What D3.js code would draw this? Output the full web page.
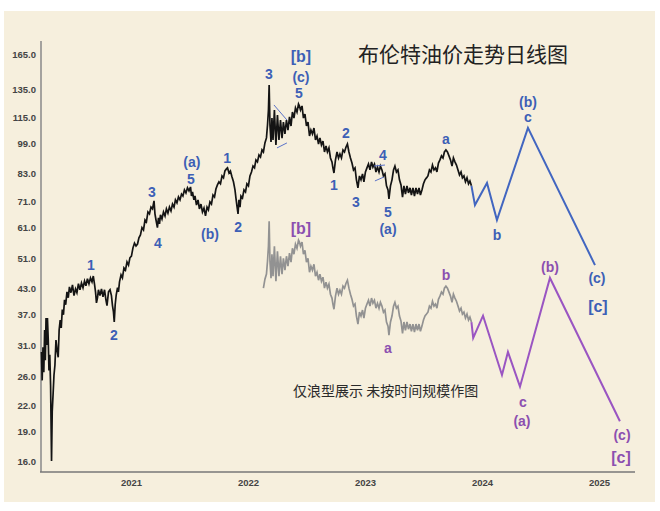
<!DOCTYPE html>
<html>
<head>
<meta charset="utf-8">
<script src="https://cdn.jsdelivr.net/npm/d3@7"></script>
<style>
body { margin: 0; background: #fff; }
svg { display: block; }
</style>
</head>
<body>
<div id="chart"></div>
<script>
// Brent daily chart (time in decimal years, price in USD)
var brentTime = [
2020.235,2020.241,2020.248,2020.255,2020.262,2020.268,2020.274,2020.280,2020.286,2020.293,
2020.299,2020.306,2020.313,2020.321,2020.327,2020.335,2020.342,2020.350,2020.359,2020.368,
2020.378,2020.386,2020.395,2020.404,2020.413,2020.423,2020.432,2020.442,2020.453,2020.464,
2020.474,2020.487,2020.500,2020.513,2020.526,2020.538,2020.551,2020.564,2020.577,2020.590,
2020.603,2020.615,2020.628,2020.641,2020.654,2020.667,2020.678,2020.688,2020.697,2020.705,
2020.714,2020.722,2020.735,2020.748,2020.761,2020.774,2020.786,2020.795,2020.808,2020.821,
2020.833,2020.842,2020.850,2020.857,2020.865,2020.874,2020.885,2020.893,2020.902,2020.915,
2020.927,2020.940,2020.953,2020.966,2020.979,2020.991,2021.004,2021.017,2021.030,2021.043,
2021.056,2021.068,2021.081,2021.094,2021.107,2021.120,2021.132,2021.145,2021.158,2021.171,
2021.184,2021.197,2021.205,2021.214,2021.226,2021.235,2021.244,2021.252,2021.265,2021.278,
2021.291,2021.303,2021.316,2021.329,2021.342,2021.355,2021.368,2021.380,2021.393,2021.406,
2021.419,2021.432,2021.444,2021.457,2021.470,2021.483,2021.496,2021.509,2021.517,2021.526,
2021.538,2021.547,2021.560,2021.573,2021.585,2021.598,2021.611,2021.624,2021.637,2021.650,
2021.662,2021.675,2021.688,2021.701,2021.714,2021.726,2021.739,2021.752,2021.765,2021.778,
2021.791,2021.803,2021.816,2021.825,2021.838,2021.850,2021.863,2021.876,2021.889,2021.897,
2021.906,2021.915,2021.923,2021.932,2021.940,2021.953,2021.966,2021.979,2021.991,2022.004,
2022.017,2022.030,2022.043,2022.056,2022.068,2022.081,2022.094,2022.107,2022.120,2022.132,
2022.145,2022.158,2022.167,2022.175,2022.181,2022.188,2022.197,2022.205,2022.214,2022.226,
2022.239,2022.252,2022.265,2022.278,2022.291,2022.303,2022.316,2022.329,2022.342,2022.355,
2022.368,2022.380,2022.393,2022.406,2022.419,2022.432,2022.440,2022.449,2022.462,2022.474,
2022.487,2022.500,2022.513,2022.526,2022.538,2022.551,2022.564,2022.577,2022.590,2022.603,
2022.615,2022.628,2022.641,2022.654,2022.667,2022.679,2022.692,2022.705,2022.718,2022.726,
2022.735,2022.748,2022.761,2022.774,2022.786,2022.799,2022.812,2022.825,2022.838,2022.850,
2022.863,2022.876,2022.889,2022.902,2022.915,2022.927,2022.940,2022.953,2022.966,2022.979,
2022.991,2023.004,2023.017,2023.030,2023.043,2023.056,2023.068,2023.081,2023.094,2023.107,
2023.120,2023.132,2023.145,2023.158,2023.171,2023.184,2023.197,2023.205,2023.218,2023.231,
2023.244,2023.256,2023.269,2023.282,2023.295,2023.308,2023.321,2023.333,2023.346,2023.359,
2023.372,2023.385,2023.397,2023.410,2023.423,2023.436,2023.449,2023.462,2023.474,2023.487,
2023.500,2023.513,2023.526,2023.538,2023.551,2023.564,2023.577,2023.590,2023.603,2023.615,
2023.628,2023.641,2023.654,2023.667,2023.679,2023.692,2023.705,2023.718,2023.731,2023.744,
2023.756,2023.769,2023.782,2023.795,2023.808,2023.821,2023.833,2023.846,2023.859,2023.872,
2023.885,2023.897,2023.910];

var brentPrice = [
29.9,25.4,30.7,26.6,33.9,28.5,36.3,31.1,36.3,32.0,
26.9,29.4,24.7,16.0,21.3,23.7,26.2,27.7,32.0,30.2,
29.0,33.9,35.9,34.3,38.1,37.0,40.3,39.2,42.2,40.8,
43.4,42.0,43.9,41.3,42.9,42.0,44.2,42.7,44.4,43.2,
44.9,43.7,45.5,44.2,45.7,44.7,46.2,44.2,42.2,39.6,
40.8,42.7,41.3,42.9,41.0,42.7,40.3,39.0,42.2,42.7,
41.3,39.0,37.7,35.5,39.2,41.5,43.2,42.2,44.7,46.5,
45.7,48.4,47.8,50.1,49.2,51.3,51.8,54.3,55.8,54.9,
55.5,57.5,58.5,61.0,60.2,63.7,63.0,66.7,66.0,68.6,
67.9,71.1,66.0,63.7,61.0,64.5,62.3,65.6,64.1,66.7,
65.2,67.9,66.3,68.6,67.1,69.8,68.6,71.5,70.3,72.7,
71.5,73.9,73.1,75.7,74.4,76.6,75.3,77.0,73.1,74.8,
71.5,73.1,69.4,71.5,67.9,69.8,66.7,68.2,65.2,68.6,
67.5,70.7,69.8,73.5,72.7,76.1,77.9,79.3,78.4,82.0,
81.1,84.4,85.4,85.9,83.4,84.4,81.6,79.3,75.7,72.3,
69.0,66.0,71.5,68.6,73.1,72.3,75.7,74.8,78.4,77.5,
82.0,83.9,86.8,85.9,89.9,88.9,92.5,91.4,95.2,94.1,
99.1,102.0,109.8,119.7,138.1,109.8,99.6,114.3,100.8,119.7,
97.9,116.3,100.8,113.0,101.9,111.7,104.3,113.0,106.7,115.0,
109.2,118.3,114.3,121.1,118.3,123.9,122.5,119.7,122.5,114.3,
116.9,109.2,111.7,103.1,106.7,104.3,107.9,100.8,103.1,98.5,
102.0,97.9,100.2,94.1,97.4,94.1,96.3,90.9,88.9,85.9,
83.4,89.9,94.1,90.9,93.0,90.9,95.2,94.1,96.8,98.5,
94.1,90.9,88.3,84.9,85.9,80.2,76.6,82.0,80.2,83.0,
79.3,83.9,85.9,87.8,84.9,88.9,86.3,87.8,83.9,86.3,
83.9,86.8,84.9,82.0,83.0,77.5,75.7,71.9,77.5,80.2,
84.9,86.8,83.9,84.9,80.2,77.9,72.6,77.5,73.9,77.5,
74.4,76.6,73.5,76.6,73.1,76.6,73.9,76.6,73.5,75.7,
78.4,80.2,81.1,82.0,84.9,83.9,87.3,84.9,85.9,83.9,
88.3,89.9,92.0,90.9,94.1,95.2,94.1,92.0,89.9,86.8,
90.9,88.9,87.3,84.9,82.5,83.9,81.1,82.0,79.3,81.1,
78.4,79.7,77.5];

// grey copy of the price path (from early 2022), drawn lower down
var shadowFrom = 2022.13;
var shadowFactor = 0.458;

// projected paths
var blueTime = [2023.940, 2024.043, 2024.128, 2024.393, 2024.966];
var bluePrice = [69.4, 78.8, 63.7, 108.0, 49.2];
var purpleTime = [2023.925, 2024.009, 2024.171, 2024.222, 2024.325, 2024.581, 2025.179];
var purplePrice = [32.4, 36.8, 26.2, 29.9, 24.5, 45.7, 20.1];

// triangle marks
var triTime = [[2022.222, 2022.333], [2022.248, 2022.333], [2023.077, 2023.171], [2023.085, 2023.162]];
var triPrice = [[123.2, 113.0], [96.3, 99.1], [86.8, 87.3], [79.7, 81.5]];

// wave labels
var blueLabelText  = ["1","2","3","4","5","(a)","(b)","1","2","3","5","(c)","[b]","1","2","3","4","5","(a)","a","b","c","(b)","(c)","[c]"];
var blueLabelTime  = [2020.658,2020.855,2021.179,2021.231,2021.513,2021.521,2021.675,2021.821,2021.915,2022.179,2022.436,2022.453,2022.453,2022.735,2022.838,2022.923,2023.154,2023.197,2023.197,2023.692,2024.128,2024.393,2024.393,2024.983,2024.991];
var blueLabelPrice = [49.2,33.0,74.8,55.8,80.7,88.9,58.8,90.9,61.2,147.1,131.9,144.6,162.2,77.9,104.9,70.8,92.5,66.7,60.5,101.4,58.5,115.2,125.3,45.7,38.7];

var purpleLabelText  = ["[b]","a","b","(b)","c","(a)","(c)","[c]"];
var purpleLabelTime  = [2022.453,2023.197,2023.692,2024.581,2024.350,2024.342,2025.197,2025.188];
var purpleLabelPrice = [60.8,30.5,46.5,48.6,22.4,20.1,18.6,16.3];

var yTicks = [16,19,22,26,31,37,43,51,61,71,83,99,115,135,165];
var xTicks = [2021,2022,2023,2024,2025];

var titleText = "布伦特油价走势日线图";
var noteText = "仅浪型展示 未按时间规模作图";

var blue = "#3d5fb6";
var purple = "#8c4fb0";

var svg = d3.select("#chart").append("svg")
    .attr("width", 660)
    .attr("height", 511);

svg.append("rect")
    .attr("x", 4).attr("y", 11)
    .attr("width", 651).attr("height", 491)
    .attr("fill", "#f6efdd");

var x = d3.scaleLinear().domain([2020.231, 2025.308]).range([41, 635]);
var y = d3.scaleLog().domain([16, 165]).range([461, 54]);

// axes
svg.append("line")
    .attr("x1", 41).attr("x2", 41).attr("y1", 41).attr("y2", 472)
    .attr("stroke", "#888").attr("stroke-width", 1.5);
svg.append("line")
    .attr("x1", 40).attr("x2", 635).attr("y1", 472).attr("y2", 472)
    .attr("stroke", "#777").attr("stroke-width", 1.5);

var yAxis = svg.append("g")
    .attr("transform", "translate(41,0)")
    .call(d3.axisLeft(y).tickValues(yTicks).tickFormat(d3.format(".1f")).tickSize(0).tickPadding(5));
var xAxis = svg.append("g")
    .attr("transform", "translate(0,472)")
    .call(d3.axisBottom(x).tickValues(xTicks).tickFormat(d3.format("d")).tickSize(0).tickPadding(7));

[yAxis, xAxis].forEach(function(g) {
    g.select(".domain").remove();
    g.selectAll("text")
        .attr("fill", "#444")
        .style("font-family", "'Liberation Sans', Arial, sans-serif")
        .style("font-size", "9.5px")
        .style("font-weight", "bold");
});

var line = d3.line()
    .x(function(d) { return x(d[0]); })
    .y(function(d) { return y(d[1]); });

var mainPts = brentTime.map(function(t, i) { return [t, brentPrice[i]]; });
var shadowPts = [];
for (var i = 0; i < brentTime.length; i++) {
    if (brentTime[i] >= shadowFrom) shadowPts.push([brentTime[i], brentPrice[i] * shadowFactor]);
}

svg.append("path")
    .datum(shadowPts)
    .attr("d", line)
    .attr("fill", "none")
    .attr("stroke", "#929292")
    .attr("stroke-width", 1.7);

svg.append("path")
    .datum(mainPts)
    .attr("d", line)
    .attr("fill", "none")
    .attr("stroke", "#141414")
    .attr("stroke-width", 1.7);

// projections start at the last point of each path
var bluePts = [mainPts[mainPts.length - 1]].concat(blueTime.map(function(t, i) { return [t, bluePrice[i]]; }));
var purplePts = [shadowPts[shadowPts.length - 1]].concat(purpleTime.map(function(t, i) { return [t, purplePrice[i]]; }));

svg.append("path")
    .datum(bluePts)
    .attr("d", line)
    .attr("fill", "none")
    .attr("stroke", "#4266c0")
    .attr("stroke-width", 2);

svg.append("path")
    .datum(purplePts)
    .attr("d", line)
    .attr("fill", "none")
    .attr("stroke", "#9a55c2")
    .attr("stroke-width", 2);

for (var k = 0; k < triTime.length; k++) {
    svg.append("line")
        .attr("x1", x(triTime[k][0])).attr("y1", y(triPrice[k][0]))
        .attr("x2", x(triTime[k][1])).attr("y2", y(triPrice[k][1]))
        .attr("stroke", "#5a72c8")
        .attr("stroke-width", 1);
}

function addLabels(texts, times, prices, color) {
    svg.append("g").selectAll("text")
        .data(texts)
        .enter()
        .append("text")
        .attr("x", function(d, i) { return x(times[i]); })
        .attr("y", function(d, i) { return y(prices[i]); })
        .attr("text-anchor", "middle")
        .attr("dominant-baseline", "central")
        .attr("fill", color)
        .style("font-family", "'Liberation Sans', Arial, sans-serif")
        .style("font-weight", "bold")
        .style("font-size", function(d) { return d.charAt(0) == "[" ? "16px" : "14px"; })
        .text(function(d) { return d; });
}

addLabels(blueLabelText, blueLabelTime, blueLabelPrice, blue);
addLabels(purpleLabelText, purpleLabelTime, purpleLabelPrice, purple);

svg.append("text")
    .attr("x", 358).attr("y", 53)
    .attr("dominant-baseline", "central")
    .attr("fill", "#222")
    .style("font-family", "'Noto Sans CJK SC', sans-serif")
    .style("font-size", "21px")
    .text(titleText);

svg.append("text")
    .attr("x", 293).attr("y", 390)
    .attr("dominant-baseline", "central")
    .attr("fill", "#2a2a2a")
    .style("font-family", "'Noto Sans CJK SC', sans-serif")
    .style("font-size", "14px")
    .text(noteText);
</script>
</body>
</html>
